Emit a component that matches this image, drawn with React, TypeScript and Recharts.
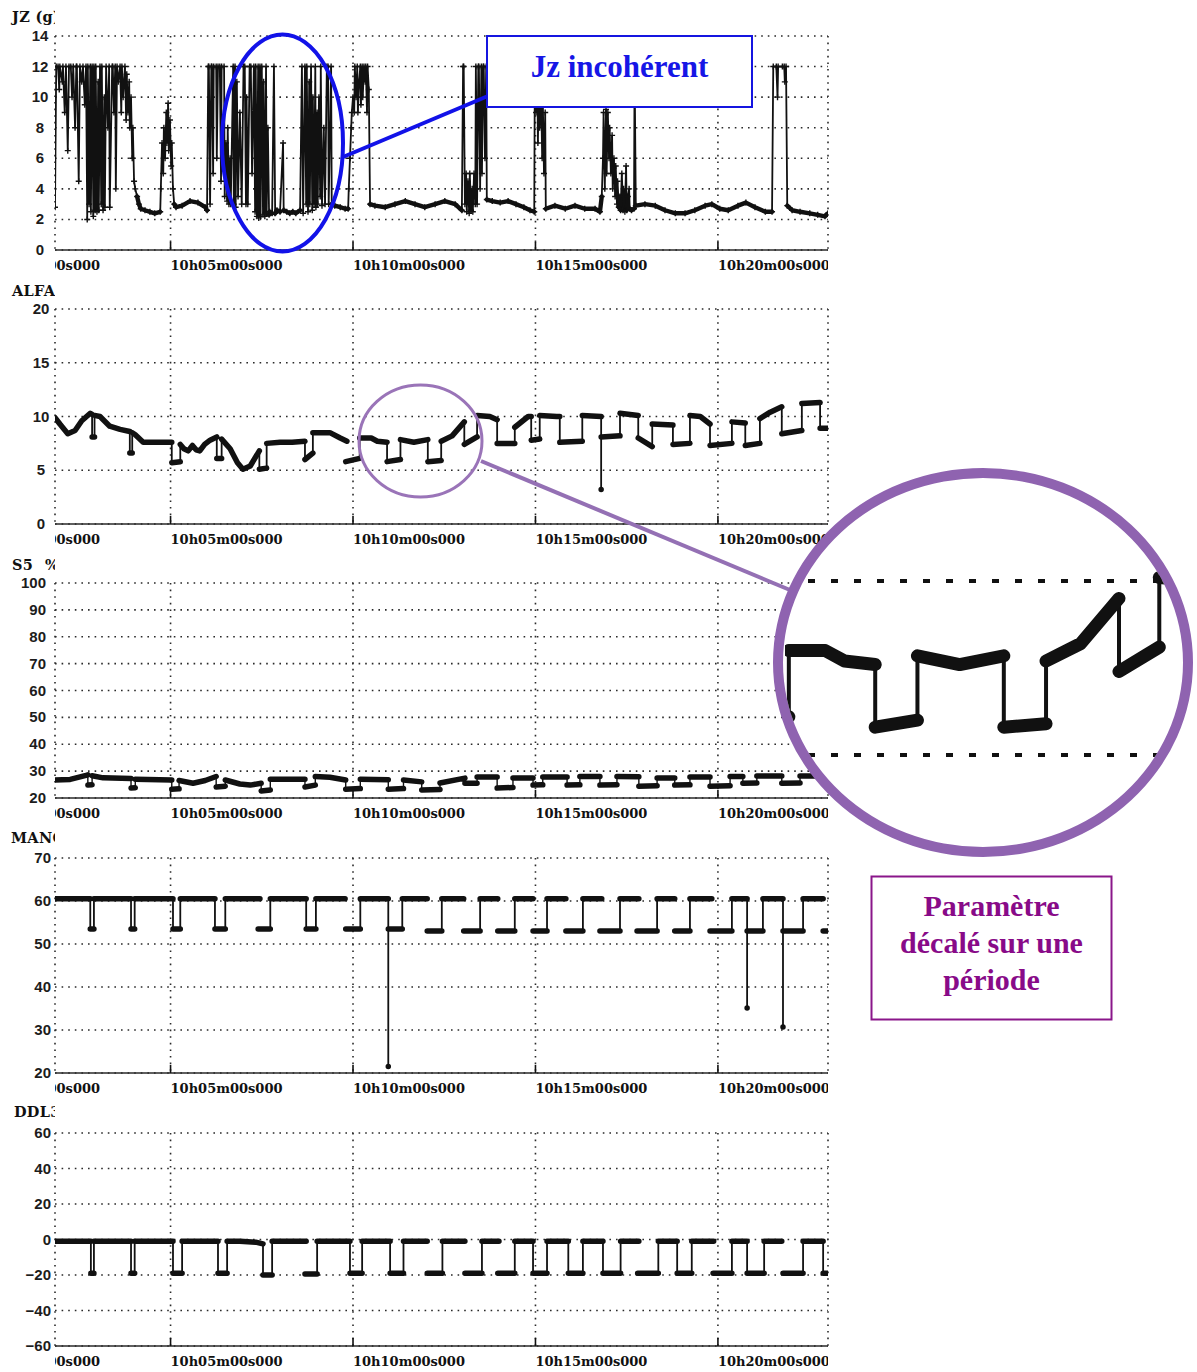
import React from "react";
import { LineChart, Line, XAxis, YAxis, CartesianGrid, ReferenceLine } from "recharts";

type Pt = [number, number | null];

// time axis in seconds after 10h00m00s
const TIME_TICKS = [0, 300, 600, 900, 1200];
const T_START = 110;
const T_END = 1381;

const JZ_TICKS = [0, 2, 4, 6, 8, 10, 12, 14];
const ALFA_TICKS = [0, 5, 10, 15, 20];
const S5_TICKS = [20, 30, 40, 50, 60, 70, 80, 90, 100];
const MAN_TICKS = [20, 30, 40, 50, 60, 70];
const DDL_TICKS = [-60, -40, -20, 0, 20, 40, 60];

const JZ: Pt[] = [
  [110, 2.8], [112, 12], [115, 12], [117, 10.5], [118, 12], [122, 11], [123, 12], [126, 9], [128, 12], [131, 6.5],
  [133, 12], [136, 12], [138, 10], [140, 12], [143, 8], [145, 12], [146, 12], [149, 4.5], [151, 12], [154, 11],
  [156, 12], [159, 9.5], [161, 12], [163, 2.0], [164, 12], [166, 3], [168, 12], [169, 2.5], [171, 12], [173, 2.2],
  [174, 12], [176, 2.6], [177, 12], [179, 2.5], [181, 11], [182, 2.6], [184, 12], [186, 3.0], [187, 12], [189, 2.6],
  [191, 10], [192, 2.8], [194, 12], [197, 8], [199, 12], [200, 2.8], [204, 12], [205, 12], [207, 9], [209, 12],
  [210, 4], [212, 12], [214, 11], [217, 12], [219, 9], [220, 12], [222, 10], [225, 12], [227, 8.5], [228, 11.5],
  [230, 9], [232, 11], [233, 8], [235, 10], [237, 6], [238, 8], [240, 4.5], [242, 4.0], [245, 3.5], [248, 3.0],
  [251, 2.7], [258, 2.6], [266, 2.5], [274, 2.4], [283, 2.5],
  [284, 4], [286, 7], [288, 5], [289, 8], [291, 6], [293, 9], [294, 7], [296, 9.6], [297, 6.5], [299, 8.5],
  [301, 5.5], [302, 7], [304, 4], [306, 3.0],
  [309, 2.8], [319, 2.9], [332, 3.2], [345, 3.1], [357, 2.8], [360, 2.6],
  [362, 12], [363, 12], [365, 3], [367, 12], [368, 12], [370, 5], [371, 12], [375, 12], [376, 6], [378, 12],
  [381, 12], [383, 4.5], [384, 12], [388, 12], [389, 3.5], [391, 7], [393, 3.2], [394, 8], [396, 3], [398, 6],
  [399, 3.0], [403, 12], [404, 3], [406, 12], [407, 2.8], [409, 11], [411, 3.5], [414, 9], [417, 3], [420, 12],
  [422, 12], [424, 3], [425, 10], [427, 3], [430, 12], [432, 12], [434, 5], [437, 12], [439, 2.5], [440, 12],
  [442, 2.2], [444, 12], [445, 2.1], [447, 12], [448, 2.2], [450, 12], [452, 2.3], [453, 11], [455, 2.2], [457, 12],
  [458, 2.4], [460, 8], [462, 2.3], [463, 2.5], [467, 2.4], [470, 12], [472, 2.4], [475, 2.6], [480, 2.5], [485, 7],
  [486, 2.6], [491, 2.5], [496, 2.4], [501, 2.5], [506, 2.4], [513, 2.6], [516, 12], [518, 2.4], [521, 12], [523, 3],
  [524, 12], [526, 2.5], [528, 11], [529, 3], [531, 12], [533, 2.6], [534, 10], [536, 3], [538, 12], [539, 2.8],
  [541, 9], [542, 3], [544, 10], [546, 3.5], [547, 12], [549, 2.9], [552, 8], [554, 3], [557, 12], [559, 12],
  [560, 3], [564, 12], [565, 3],
  [570, 2.9], [579, 2.8], [587, 2.7], [592, 2.7],
  [593, 4], [595, 6], [597, 8], [598, 9], [600, 10], [602, 9], [603, 12], [605, 10], [607, 12], [608, 9],
  [610, 11], [612, 12], [613, 9.5], [615, 12], [616, 10], [618, 12], [620, 11], [621, 12], [623, 9], [624, 12],
  [626, 10.5], [628, 3.0],
  [636, 2.9], [653, 2.8], [669, 3.0], [686, 3.2], [702, 3.0], [718, 2.8], [735, 3.0], [751, 3.2], [768, 3.0], [779, 2.6],
  [781, 12], [782, 12], [784, 3], [786, 5], [787, 2.5], [789, 4.5], [791, 2.4], [792, 5], [794, 2.6], [796, 4],
  [797, 2.5], [799, 5], [801, 3], [802, 12], [804, 3], [806, 12], [807, 12], [809, 4], [811, 12], [812, 5],
  [814, 12], [815, 12], [817, 6], [819, 12], [820, 3.3],
  [829, 3.2], [842, 3.1], [855, 3.2], [868, 3.0], [881, 2.8], [891, 2.6], [898, 2.5],
  [899, 12], [901, 9], [903, 12], [904, 7], [906, 12], [907, 8], [909, 11], [911, 6], [912, 10], [914, 5],
  [916, 9], [917, 2.7],
  [932, 2.9], [949, 2.7], [965, 2.9], [981, 2.7], [998, 2.7], [1006, 2.5],
  [1009, 3.5], [1011, 6], [1012, 9], [1014, 4], [1016, 9.2], [1017, 5], [1019, 9], [1021, 6], [1022, 8], [1024, 5],
  [1026, 7.5], [1027, 4], [1029, 6], [1031, 3.5], [1032, 5.5], [1034, 3], [1035, 4.5], [1037, 2.8], [1039, 3.5], [1040, 2.6],
  [1042, 5], [1044, 2.6], [1045, 4], [1047, 2.5], [1049, 5.5], [1050, 2.6], [1052, 3.5], [1054, 4], [1055, 2.7], [1058, 2.6],
  [1062, 2.7], [1063, 12], [1065, 2.9],
  [1080, 3.0], [1097, 2.9], [1113, 2.6], [1130, 2.4], [1146, 2.4], [1162, 2.6], [1179, 2.9], [1190, 3.0], [1203, 2.7],
  [1217, 2.6], [1233, 2.9], [1246, 3.1], [1261, 2.8], [1278, 2.5], [1289, 2.5],
  [1291, 12], [1296, 12], [1298, 10], [1299, 12], [1306, 12], [1309, 12], [1310, 11], [1312, 12], [1314, 2.9],
  [1322, 2.6], [1335, 2.5], [1351, 2.4], [1364, 2.3], [1376, 2.2], [1381, 2.4],
];

const ALFA: Pt[] = [
  [110, 9.9], [118, 9.3], [131, 8.4], [143, 8.7], [154, 9.6], [168, 10.3], [171, 10.2], [171, 8.1], [175, 8.1], [175, 10.1],
  [184, 10.0], [200, 9.1], [217, 8.8], [233, 8.6], [233, 6.6], [237, 6.6], [237, 8.5], [242, 8.3], [255, 7.6], [283, 7.6],
  [302, 7.6], [302, 5.7], [316, 5.8], [316, 7.4], [322, 7.0], [329, 6.8], [336, 7.3], [342, 6.9], [348, 6.8], [356, 7.4],
  [365, 7.8], [376, 8.1], [376, 6.1], [384, 6.1], [384, 7.9], [398, 7.0], [410, 5.7], [419, 5.1], [431, 5.4], [446, 6.8],
  [446, 5.1], [458, 5.2], [458, 7.5], [480, 7.6], [500, 7.6], [521, 7.7], [521, 6.0], [534, 6.6], [534, 8.5], [562, 8.5],
  [579, 8.0], [590, 7.7], [590, null], [588, 5.8], [611, 6.1], [611, 8.0], [630, 8.0], [640, 7.7], [656, 7.6], [656, 5.8],
  [678, 6.0], [678, 7.85], [700, 7.6], [723, 7.85], [723, 5.8], [745, 5.9], [745, 7.7], [763, 8.2], [783, 9.5], [783, 7.4],
  [804, 8.1], [804, 10.1], [825, 10.0], [837, 9.7], [837, 7.5], [866, 7.5], [866, 9.0], [888, 10.0], [893, 10.0], [893, 7.8],
  [907, 7.9], [907, 10.1], [935, 10.0], [940, 10.0], [940, 7.6], [977, 7.7], [977, 10.1], [1008, 10.0], [1008, 3.2], [1008, 8.1],
  [1039, 8.2], [1039, 10.3], [1069, 10.1], [1069, 8.0], [1092, 7.2], [1092, 9.3], [1126, 9.2], [1126, 7.4], [1154, 7.5], [1154, 10.1],
  [1171, 10.0], [1187, 9.3], [1187, 7.3], [1223, 7.5], [1223, 9.5], [1245, 9.4], [1245, 7.3], [1269, 7.5], [1269, 9.8], [1286, 10.4],
  [1305, 10.9], [1305, 8.4], [1338, 8.7], [1338, 11.2], [1368, 11.3], [1368, 8.9], [1381, 8.9],
];

const S5: Pt[] = [
  [110, 26.7], [135, 26.9], [161, 28.4], [164, 28.6], [164, 24.8], [171, 24.9], [171, 28.3], [189, 27.5], [235, 27.3], [235, 23.7],
  [242, 23.8], [242, 27.0], [302, 26.7], [302, 23.3], [314, 23.4], [314, 26.5], [337, 25.5], [357, 26.5], [375, 28.0], [375, 24.1],
  [390, 24.4], [390, 26.7], [414, 25.2], [431, 24.8], [449, 25.5], [449, 22.6], [464, 23.0], [464, 27.0], [521, 27.0], [521, 24.1],
  [538, 24.8], [538, 28.0], [562, 27.7], [588, 26.7], [588, 23.3], [612, 23.5], [612, 27.0], [658, 26.8], [658, 23.3], [683, 23.5],
  [683, 26.7], [713, 26.0], [713, 23.0], [743, 23.2], [743, 25.6], [784, 27.4], [784, 25.5], [804, 25.5], [804, 27.8], [837, 27.8],
  [837, 23.7], [863, 23.9], [863, 27.4], [896, 27.4], [896, 24.8], [912, 24.9], [912, 27.8], [952, 27.8], [952, 24.8], [973, 24.9],
  [973, 28.0], [1006, 28.0], [1006, 24.8], [1034, 24.9], [1034, 28.0], [1070, 27.9], [1070, 24.4], [1100, 24.6], [1100, 27.4], [1129, 27.4],
  [1129, 24.8], [1154, 24.9], [1154, 27.8], [1187, 27.8], [1187, 24.4], [1220, 24.6], [1220, 28.0], [1241, 28.0], [1241, 25.5], [1264, 25.6],
  [1264, 28.2], [1305, 28.2], [1305, 25.5], [1335, 25.6], [1335, 28.2], [1381, 28.2],
];

const MAN: Pt[] = [
  [110, 60.5], [168, 60.5], [168, 53.5], [174, 53.5], [174, 60.5], [235, 60.5], [235, 53.5], [241, 53.5], [241, 60.5], [304, 60.5],
  [304, 53.5], [316, 53.5], [316, 60.5], [373, 60.5], [373, 53.5], [390, 53.5], [390, 60.5], [447, 60.5], [447, null], [444, 53.5],
  [464, 53.5], [464, 60.5], [523, 60.5], [523, 53.5], [539, 53.5], [539, 60.5], [587, 60.5], [587, null], [588, 53.5], [612, 53.5],
  [612, 60.5], [658, 60.5], [658, 21.5], [658, 53.5], [681, 53.5], [681, 60.5], [722, 60.5], [722, null], [722, 53.0], [746, 53.0],
  [746, 60.5], [782, 60.5], [782, null], [782, 53.0], [809, 53.0], [809, 60.5], [838, 60.5], [838, null], [838, 53.0], [866, 53.0],
  [866, 60.5], [896, 60.5], [896, null], [896, 53.0], [919, 53.0], [919, 60.5], [950, 60.5], [950, null], [950, 53.0], [978, 53.0],
  [978, 60.5], [1009, 60.5], [1009, null], [1006, 53.0], [1039, 53.0], [1039, 60.5], [1070, 60.5], [1070, null], [1067, 53.0], [1100, 53.0],
  [1100, 60.5], [1129, 60.5], [1129, null], [1129, 53.0], [1154, 53.0], [1154, 60.5], [1190, 60.5], [1190, null], [1187, 53.0], [1223, 53.0],
  [1223, 60.5], [1248, 60.5], [1248, 35.1], [1248, 53.0], [1274, 53.0], [1274, 60.5], [1307, 60.5], [1307, 30.7], [1307, 53.0], [1340, 53.0],
  [1340, 60.5], [1373, 60.5], [1373, null], [1373, 53.0], [1381, 53.0],
];

const DDL: Pt[] = [
  [110, -1], [169, -1], [169, -19], [174, -19], [174, -1], [235, -1], [235, -19], [241, -19], [241, -1], [304, -1],
  [304, -19], [319, -19], [319, -1], [378, -1], [378, -19], [393, -19], [393, -1], [414, -1], [440, -1.5], [452, -2.5],
  [452, -20], [467, -20], [467, -1], [523, -1], [523, null], [521, -19.5], [541, -19.5], [541, -1], [595, -1], [595, -19],
  [615, -19], [615, -1], [661, -1], [661, -19], [683, -19], [683, -1], [722, -1], [722, null], [722, -19], [747, -19],
  [747, -1], [784, -1], [784, null], [784, -19], [812, -19], [812, -1], [840, -1], [840, null], [838, -19], [866, -19],
  [866, -1], [896, -1], [896, -19], [919, -19], [919, -1], [954, -1], [954, -19], [978, -19], [978, -1], [1011, -1],
  [1011, -19], [1040, -19], [1040, -1], [1070, -1], [1070, null], [1068, -19], [1102, -19], [1102, -1], [1133, -1], [1133, -19],
  [1157, -19], [1157, -1], [1193, -1], [1193, null], [1192, -19], [1223, -19], [1223, -1], [1248, -1], [1248, -19], [1276, -19],
  [1276, -1], [1305, -1], [1305, null], [1307, -19], [1340, -19], [1340, -1], [1373, -1], [1373, -19], [1381, -19],
];

const INK = "#111";
const PLOT_L = 55;
const PLOT_R = 828;
const CHART_W = 840;

const rowsOf = (pts: Pt[]) => pts.map(([t, v]) => ({ t, v }));

// heavy pen on plateaus, the vertical jumps stay thin
const plateausOf = (pts: Pt[]) => {
  const out: { t: number; v: number | null }[] = [];
  pts.forEach(([t, v], i) => {
    out.push({ t, v });
    const next = pts[i + 1];
    if (next && next[0] === t) out.push({ t, v: null });
  });
  return out;
};

// JZ: the quiet stretches near the floor look heavy on the trace
const quietOf = (pts: Pt[], limit: number) => {
  const low = (p?: Pt) => p != null && p[1] != null && p[1] < limit;
  return pts.map(([t, v], i) => {
    const keep = low(pts[i]) && (low(pts[i - 1]) || low(pts[i + 1]));
    return { t, v: keep ? v : null };
  });
};

const fmtTime = (t: number) => {
  const m = Math.floor(t / 60);
  const s = t % 60;
  return `10h${String(m).padStart(2, "0")}m${String(s).padStart(2, "0")}s000`;
};

function TimeTick(props: any) {
  const { x, y, payload } = props;
  return (
    <g>
      <line x1={x} x2={x} y1={y - 8} y2={y} stroke={INK} strokeWidth={1.6} />
      <svg x={PLOT_L} y={y} width={PLOT_R - PLOT_L} height={28} overflow="hidden">
        <text x={x - PLOT_L} y={20} fontFamily="DejaVu Serif" fontWeight="bold" fontSize={13} fill={INK}>
          {fmtTime(payload.value)}
        </text>
      </svg>
    </g>
  );
}

function valueTick(labelX: number, anchor: "middle" | "end") {
  return (props: any) => {
    const { y, payload } = props;
    const v = payload.value;
    const txt = v < 0 ? `\u2212${Math.abs(v)}` : String(v);
    return (
      <text x={labelX} y={y} dy={5} textAnchor={anchor} fontFamily="Liberation Sans" fontWeight="bold" fontSize={15} fill="#1c1c1c">
        {txt}
      </text>
    );
  };
}

const cross = (props: any) => {
  const { cx, cy, index } = props;
  if (cx == null || cy == null) return <g key={index} />;
  return <path key={index} d={`M${cx - 3},${cy}h6M${cx},${cy - 3}v6`} stroke={INK} strokeWidth={1.4} />;
};

type PanelProps = {
  top: number;
  plotH: number;
  domain: [number, number];
  ticks: number[];
  labelX: number;
  anchor: "middle" | "end";
  thin: any[];
  thick: any[];
  thinW: number;
  thickW: number;
  crosses?: boolean;
};

function Panel({ top, plotH, domain, ticks, labelX, anchor, thin, thick, thinW, thickW, crosses }: PanelProps) {
  return (
    <div style={{ position: "absolute", left: 0, top: top - 10 }}>
      <LineChart width={CHART_W} height={10 + plotH + 30} margin={{ top: 10, right: CHART_W - PLOT_R, bottom: 0, left: 0 }}>
        <CartesianGrid stroke="#2a2a2a" strokeWidth={1.6} strokeDasharray="1.6 5" />
        <XAxis
          dataKey="t"
          type="number"
          domain={[T_START, T_END]}
          allowDataOverflow
          ticks={TIME_TICKS}
          interval={0}
          tickSize={0}
          tickMargin={0}
          tickLine={false}
          height={30}
          axisLine={{ stroke: "#2a2a2a", strokeWidth: 1.6 }}
          tick={TimeTick}
        />
        <YAxis
          type="number"
          domain={domain}
          allowDataOverflow
          ticks={ticks}
          interval={0}
          width={PLOT_L}
          axisLine={false}
          tickLine={false}
          tickSize={0}
          tickMargin={8}
          tick={valueTick(labelX, anchor)}
        />
        <Line
          data={thin}
          dataKey="v"
          type="linear"
          stroke={INK}
          strokeWidth={thinW}
          dot={crosses ? cross : false}
          activeDot={false}
          connectNulls={false}
          isAnimationActive={false}
        />
        <Line
          data={thick}
          dataKey="v"
          type="linear"
          stroke={INK}
          strokeWidth={thickW}
          strokeLinecap="round"
          strokeLinejoin="round"
          dot={false}
          activeDot={false}
          connectNulls={false}
          isAnimationActive={false}
        />
      </LineChart>
    </div>
  );
}

const TITLE_FONT = { fontFamily: "DejaVu Serif", fontWeight: "bold" as const, fontSize: 14.5, letterSpacing: 0.3, fill: INK };
const PURPLE = "#8f63b0";

export default function App() {
  const alfaThin = rowsOf(ALFA);
  const alfaThick = plateausOf(ALFA);
  return (
    <div style={{ position: "absolute", left: 0, top: 0, width: 1197, height: 1372, background: "#fff", overflow: "hidden" }}>
      <Panel top={36} plotH={214} domain={[0, 14]} ticks={JZ_TICKS} labelX={40} anchor="middle"
        thin={rowsOf(JZ)} thick={quietOf(JZ, 3.6)} thinW={1.8} thickW={4.4} crosses />
      <Panel top={309} plotH={215} domain={[0, 20]} ticks={ALFA_TICKS} labelX={41} anchor="middle"
        thin={alfaThin} thick={alfaThick} thinW={1.8} thickW={5.5} />
      <Panel top={583} plotH={215} domain={[20, 100]} ticks={S5_TICKS} labelX={46} anchor="end"
        thin={rowsOf(S5)} thick={plateausOf(S5)} thinW={1.4} thickW={5.5} />
      <Panel top={858} plotH={215} domain={[20, 70]} ticks={MAN_TICKS} labelX={51} anchor="end"
        thin={rowsOf(MAN)} thick={plateausOf(MAN)} thinW={1.8} thickW={5.5} />
      <Panel top={1133} plotH={213} domain={[-60, 60]} ticks={DDL_TICKS} labelX={51} anchor="end"
        thin={rowsOf(DDL)} thick={plateausOf(DDL)} thinW={1.8} thickW={5.5} />

      <svg width={1197} height={1372} style={{ position: "absolute", left: 0, top: 0, pointerEvents: "none" }}>
        <defs>
          <clipPath id="titleClip">
            <rect x={0} y={0} width={55} height={1372} />
          </clipPath>
        </defs>
        <g clipPath="url(#titleClip)">
          <text x={12} y={22} {...TITLE_FONT}>JZ (g)</text>
          <text x={12} y={296} {...TITLE_FONT}>ALFA</text>
          <text x={12} y={570} {...TITLE_FONT}>S5</text>
          <text x={45} y={570} {...TITLE_FONT}>%</text>
          <text x={11} y={843} {...TITLE_FONT}>MANCHE</text>
          <text x={14} y={1117} {...TITLE_FONT}>DDL3</text>
        </g>

        <ellipse cx={282.5} cy={143} rx={60.5} ry={108.5} fill="none" stroke="#1212e8" strokeWidth={4} />
        <line x1={343} y1={157} x2={488} y2={96} stroke="#1212e8" strokeWidth={4} />
        <rect x={487} y={36} width={265} height={71} fill="#fff" stroke="#1515e0" strokeWidth={2} />
        <text x={619.5} y={77} textAnchor="middle" fontFamily="Liberation Serif" fontWeight="bold" fontSize={31} fill="#1616e6">
          Jz incohérent
        </text>

        <ellipse cx={420.5} cy={441} rx={61.5} ry={56} fill="none" stroke="#9a74b8" strokeWidth={3} />
        <line x1={481} y1={461} x2={790} y2={590} stroke="#9470b4" strokeWidth={4} />

        <rect x={871.5} y={876.5} width={240} height={143} fill="#fff" stroke="#8a168a" strokeWidth={2} />
        <g fontFamily="Liberation Serif" fontWeight="bold" fontSize={30} fill="#880a88" textAnchor="middle">
          <text x={991.5} y={916}>Paramètre</text>
          <text x={991.5} y={953}>décalé sur une</text>
          <text x={991.5} y={990}>période</text>
        </g>
      </svg>

      <div
        style={{
          position: "absolute",
          left: 773,
          top: 468,
          width: 420,
          height: 389,
          boxSizing: "border-box",
          border: `10px solid ${PURPLE}`,
          borderRadius: "50%",
          overflow: "hidden",
          background: "#fff",
        }}
      >
        <LineChart width={420} height={369} margin={{ top: 33.4, left: 2, right: 13, bottom: 22.4 }}>
          <XAxis dataKey="t" type="number" domain={[609, 820]} allowDataOverflow hide />
          <YAxis type="number" domain={[3, 12]} allowDataOverflow hide />
          <ReferenceLine y={10} stroke={INK} strokeWidth={4} strokeDasharray="7 16" />
          <ReferenceLine y={5} stroke={INK} strokeWidth={4} strokeDasharray="7 16" />
          <Line data={alfaThin} dataKey="v" type="linear" stroke={INK} strokeWidth={4} dot={false} activeDot={false}
            connectNulls={false} isAnimationActive={false} />
          <Line data={alfaThick} dataKey="v" type="linear" stroke={INK} strokeWidth={13} strokeLinecap="round"
            strokeLinejoin="round" dot={false} activeDot={false} connectNulls={false} isAnimationActive={false} />
        </LineChart>
      </div>
    </div>
  );
}
